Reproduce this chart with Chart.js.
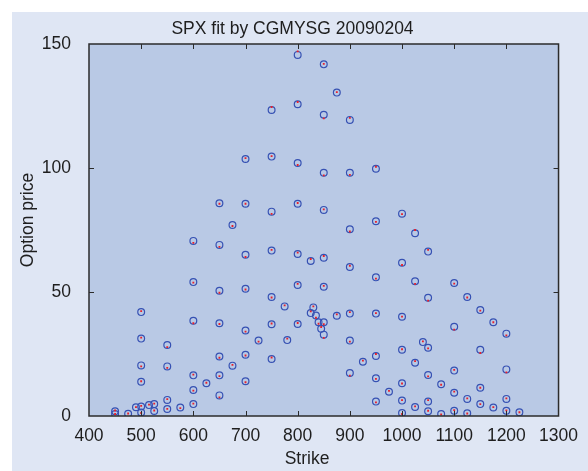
<!DOCTYPE html>
<html>
<head>
<meta charset="utf-8">
<script src="https://cdn.jsdelivr.net/npm/chart.js@4"></script>
<style>
  body { margin: 0; background: #fff; }
  #wrap { position: absolute; left: 12px; top: 12px; width: 576px; height: 459px; background: #dfe6f4; }
</style>
</head>
<body>
<div id="wrap"><canvas id="fitChart" width="576" height="459"></canvas></div>
<script>
// strike, market price (blue circles), model price (red dots)
const strikes = [
  450, 450, 475, 490,
  500, 500, 500, 500, 500, 500, 515, 525, 525,
  550, 550, 550, 550, 575,
  600, 600, 600, 600, 600, 600, 625,
  650, 650, 650, 650, 650, 650, 650, 675, 675,
  700, 700, 700, 700, 700, 700, 700, 725,
  750, 750, 750, 750, 750, 750, 750, 775, 780,
  800, 800, 800, 800, 800, 800, 800,
  825, 825, 830, 835, 840, 845,
  850, 850, 850, 850, 850, 850, 850, 850, 875, 875,
  900, 900, 900, 900, 900, 900, 900, 925,
  950, 950, 950, 950, 950, 950, 950, 975,
  1000, 1000, 1000, 1000, 1000, 1000, 1000,
  1025, 1025, 1025, 1025, 1040,
  1050, 1050, 1050, 1050, 1050, 1050, 1075, 1075,
  1100, 1100, 1100, 1100, 1100, 1125, 1125, 1125,
  1150, 1150, 1150, 1150, 1175, 1175,
  1200, 1200, 1200, 1200, 1225
];
const marketPrice = [
  1.9, 0.8, 0.9, 3.5,
  41.9, 31.2, 20.4, 13.8, 3.8, 1.4, 4.4, 4.8, 2.0,
  28.6, 20.0, 6.5, 2.8, 3.4,
  70.6, 54.0, 38.4, 16.4, 10.5, 4.8, 13.2,
  85.8, 69.0, 50.5, 37.4, 24.0, 16.4, 8.3, 77.0, 20.3,
  103.6, 85.6, 65.0, 51.3, 34.5, 24.7, 14.0, 30.4,
  123.4, 104.6, 82.4, 66.7, 48.0, 37.0, 23.0, 44.2, 30.6,
  145.6, 125.7, 102.0, 85.6, 65.3, 52.8, 37.1,
  62.5, 41.5, 43.8, 40.5, 37.8, 35.2,
  141.8, 121.5, 98.1, 83.1, 63.8, 52.1, 37.8, 32.8, 130.4, 40.4,
  119.4, 98.1, 75.3, 60.1, 41.3, 30.4, 17.3, 21.9,
  99.7, 78.5, 55.9, 41.3, 24.2, 15.2, 5.8, 9.8,
  81.6, 61.8, 40.0, 26.7, 13.2, 6.2, 1.2,
  73.7, 54.3, 21.5, 3.6, 29.8,
  66.3, 47.7, 27.5, 16.5, 5.8, 1.9, 12.8, 0.8,
  53.6, 36.0, 18.3, 9.4, 2.1, 48.0, 6.9, 1.1,
  42.7, 26.7, 11.4, 4.8, 37.8, 3.4,
  33.2, 18.8, 6.9, 2.1, 1.5
];
const modelPrice = [
  2.2, 0.8, 1.0, 3.6,
  42.3, 31.6, 20.0, 14.0, 4.1, 1.2, 4.6, 5.0, 2.2,
  27.8, 19.4, 6.8, 2.9, 3.2,
  69.8, 53.8, 37.4, 16.7, 10.2, 5.0, 13.4,
  85.6, 68.2, 49.7, 37.1, 23.5, 16.1, 7.5, 76.6, 20.6,
  104.0, 85.6, 64.1, 51.0, 34.0, 24.4, 13.6, 30.0,
  124.6, 104.8, 81.5, 67.0, 47.8, 37.3, 23.6, 44.6, 31.2,
  147.0, 126.6, 101.2, 85.9, 65.9, 53.3, 37.5,
  63.3, 42.2, 44.2, 39.6, 37.2, 35.9,
  142.0, 120.0, 97.0, 83.3, 64.5, 52.5, 37.0, 31.5, 130.6, 41.0,
  120.2, 97.2, 74.4, 60.6, 41.9, 30.0, 16.3, 22.3,
  100.5, 78.3, 55.4, 41.5, 25.0, 15.0, 5.5, 10.1,
  81.4, 60.9, 40.1, 26.9, 13.1, 6.4, 0.8,
  75.0, 53.3, 22.1, 3.9, 30.1,
  67.0, 46.5, 27.3, 16.0, 6.4, 2.1, 12.6, 0.6,
  53.4, 34.8, 18.6, 9.8, 2.4, 47.8, 7.1, 1.0,
  42.5, 25.4, 11.4, 4.8, 37.8, 3.6,
  32.5, 17.6, 7.1, 2.3, 1.5
];
const xTicks = [400, 500, 600, 700, 800, 900, 1000, 1100, 1200, 1300];
const yTicks = [0, 50, 100, 150];

const chartTitle = 'SPX fit by CGMYSG 20090204';
const xLabel = 'Strike';
const yLabel = 'Option price';

const FONT = 'Liberation Sans, Arial, Helvetica, sans-serif';

const framePlugin = {
  id: 'frame',
  beforeDatasetsDraw(chart) {
    const a = chart.chartArea, ctx = chart.ctx;
    ctx.save();
    ctx.fillStyle = '#b9c9e5';
    ctx.fillRect(a.left, a.top, a.right - a.left, a.bottom - a.top);
    ctx.restore();
  },
  afterDraw(chart) {
    const a = chart.chartArea, ctx = chart.ctx;
    const xs = chart.scales.x, ys = chart.scales.y;
    ctx.save();
    ctx.strokeStyle = '#2b2b2b';
    ctx.lineWidth = 1.5;
    ctx.strokeRect(a.left, a.top, a.right - a.left, a.bottom - a.top);
    ctx.lineWidth = 1;
    ctx.beginPath();
    xTicks.slice(1, -1).forEach(v => {
      const px = Math.round(xs.getPixelForValue(v)) + 0.5;
      ctx.moveTo(px, a.bottom); ctx.lineTo(px, a.bottom - 5);
      ctx.moveTo(px, a.top); ctx.lineTo(px, a.top + 5);
    });
    yTicks.slice(1, -1).forEach(v => {
      const py = Math.round(ys.getPixelForValue(v)) + 0.5;
      ctx.moveTo(a.left, py); ctx.lineTo(a.left + 5, py);
      ctx.moveTo(a.right, py); ctx.lineTo(a.right - 5, py);
    });
    ctx.stroke();

    // title and axis labels
    ctx.fillStyle = '#1e1e1e';
    ctx.font = '17.5px ' + FONT;
    ctx.textAlign = 'center';
    ctx.textBaseline = 'middle';
    ctx.fillText(chartTitle, 280.5, 17);
    ctx.fillText(xLabel, 295, 447.5);
    ctx.translate(16, 208);
    ctx.rotate(-Math.PI / 2);
    ctx.fillText(yLabel, 0, 0);
    ctx.restore();
  }
};

const ctx = document.getElementById('fitChart').getContext('2d');
new Chart(ctx, {
  type: 'scatter',
  data: {
    datasets: [
      {
        label: 'model',
        data: strikes.map((k, i) => ({ x: k, y: modelPrice[i] })),
        pointStyle: 'rect',
        pointRadius: 1.3,
        pointBackgroundColor: '#e8202a',
        pointBorderWidth: 0,
        pointHoverRadius: 1.3
      },
      {
        label: 'market',
        data: strikes.map((k, i) => ({ x: k, y: marketPrice[i] })),
        pointStyle: 'circle',
        pointRadius: 3.4,
        pointBackgroundColor: 'rgba(0,0,0,0)',
        pointBorderColor: '#3651b3',
        pointBorderWidth: 1.2,
        pointHoverRadius: 3.4
      }
    ]
  },
  options: {
    responsive: false,
    animation: false,
    events: [],
    layout: { padding: { left: 0, right: 26, top: 32, bottom: 0 } },
    plugins: {
      legend: { display: false },
      title: { display: false },
      tooltip: { enabled: false }
    },
    scales: {
      x: {
        type: 'linear',
        min: 400,
        max: 1300,
        afterBuildTicks: s => { s.ticks = xTicks.map(v => ({ value: v })); },
        afterFit: s => { s.height = 55; },
        grid: { display: false, drawTicks: false },
        border: { display: false },
        ticks: {
          color: '#1e1e1e', padding: 10, maxRotation: 0,
          font: { family: FONT, size: 17.5 },
          callback: v => String(v)
        }
      },
      y: {
        type: 'linear',
        min: 0,
        max: 150,
        afterBuildTicks: s => { s.ticks = yTicks.map(v => ({ value: v })); },
        afterFit: s => { s.width = 77; },
        grid: { display: false, drawTicks: false },
        border: { display: false },
        ticks: {
          color: '#1e1e1e', padding: 18,
          font: { family: FONT, size: 17.5 },
          callback: v => String(v)
        }
      }
    }
  },
  plugins: [framePlugin]
});
</script>
</body>
</html>
